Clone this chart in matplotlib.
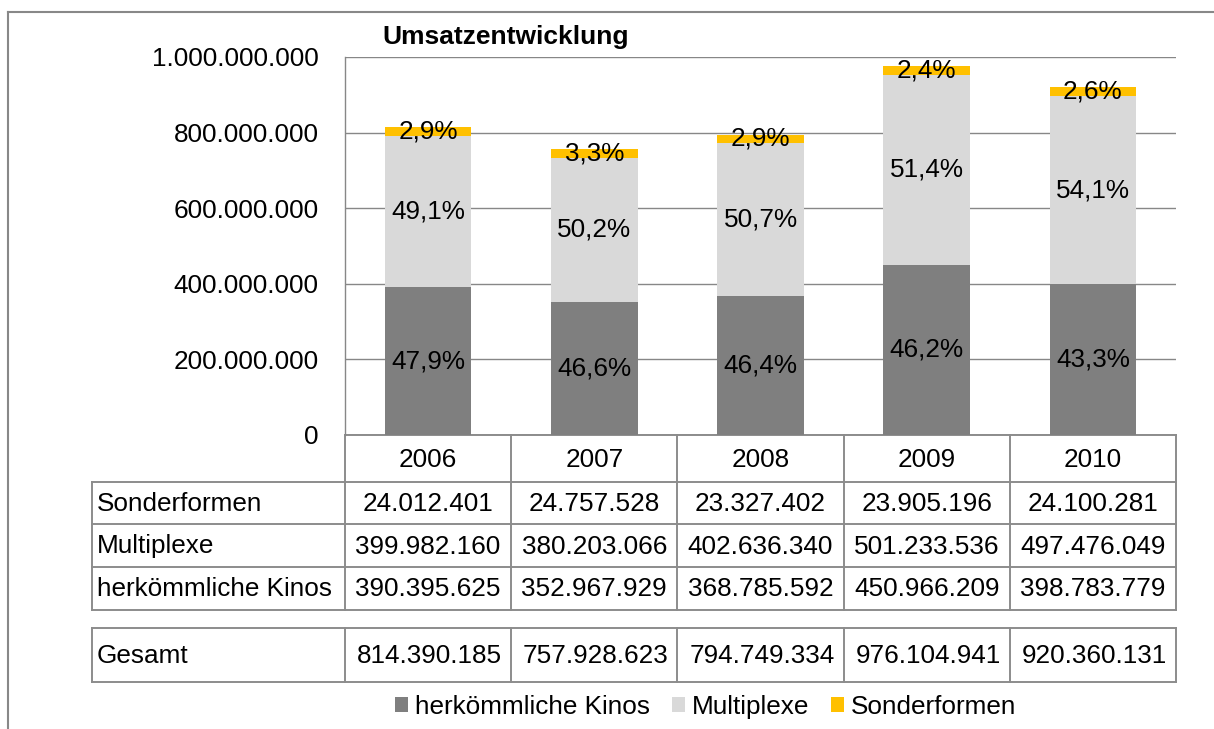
import matplotlib
matplotlib.use("Agg")
import matplotlib.pyplot as plt
import matplotlib.transforms as mtransforms
from matplotlib.lines import Line2D
import numpy as np

plt.rcParams['font.family'] = ['Liberation Sans', 'DejaVu Sans']

# ---------------- data ----------------
years = ["2006", "2007", "2008", "2009", "2010"]
herkoemmliche = [390395625, 352967929, 368785592, 450966209, 398783779]
multiplexe = [399982160, 380203066, 402636340, 501233536, 497476049]
sonderformen = [24012401, 24757528, 23327402, 23905196, 24100281]
gesamt = [814390185, 757928623, 794749334, 976104941, 920360131]
pct_herk = ["47,9%", "46,6%", "46,4%", "46,2%", "43,3%"]
pct_multi = ["49,1%", "50,2%", "50,7%", "51,4%", "54,1%"]
pct_sonder = ["2,9%", "3,3%", "2,9%", "2,4%", "2,6%"]
series_names = ["herkömmliche Kinos", "Multiplexe", "Sonderformen"]
row_labels = ["Sonderformen", "Multiplexe", "herkömmliche Kinos"]
y_ticks = [0, 200000000, 400000000, 600000000, 800000000, 1000000000]
title = "Umsatzentwicklung"

colors = ["#7F7F7F", "#D9D9D9", "#FFC000"]
gridc = "#878787"
linec = "#8C8C8C"
FS = 18.8


def fmt(v):
    return f"{v:,}".replace(",", ".")


W, H = 1214, 729
fig = plt.figure(figsize=(W / 100, H / 100), dpi=100)

# overlay in pixel coordinates (y downward)
ov = fig.add_axes([0, 0, 1, 1], zorder=0)
ov.set_xlim(0, W)
ov.set_ylim(H, 0)
ov.axis("off")

ax_l, ax_r, ax_t, ax_b = 345, 1176, 57, 435
ax = fig.add_axes([ax_l / W, 1 - ax_b / H, (ax_r - ax_l) / W, (ax_b - ax_t) / H], zorder=1)
ax.patch.set_alpha(0)

x = np.arange(len(years))
bw = 0.52
b1 = ax.bar(x, herkoemmliche, bw, color=colors[0], label=series_names[0], zorder=2)
b2 = ax.bar(x, multiplexe, bw, bottom=herkoemmliche, color=colors[1], label=series_names[1], zorder=2)
bottom3 = np.array(herkoemmliche) + np.array(multiplexe)
b3 = ax.bar(x, sonderformen, bw, bottom=bottom3, color=colors[2], label=series_names[2], zorder=2)

ax.bar_label(b1, labels=pct_herk, label_type="center", fontsize=FS, color="black")
ax.bar_label(b2, labels=pct_multi, label_type="center", fontsize=FS, color="black")
ax.bar_label(b3, labels=pct_sonder, label_type="center", fontsize=FS, color="black")

ax.set_xlim(-0.5, len(years) - 0.5)
ax.set_ylim(0, 1000000000)
ax.set_yticks(y_ticks)
ax.set_yticklabels([fmt(v) for v in y_ticks], fontsize=FS)
ax.tick_params(axis="y", length=0, pad=19)
ax.set_xticks([])
ax.yaxis.grid(True, color=gridc, linewidth=1.0, zorder=0)
ax.set_axisbelow(True)
for s in ["top", "right", "bottom"]:
    ax.spines[s].set_visible(False)
ax.spines["left"].set_color(gridc)
ax.spines["left"].set_linewidth(1.0)

# title
ov.text(382, 37, title, fontsize=19, fontweight="bold", ha="left", va="center")

# ---------------- data table ----------------
tr = mtransforms.blended_transform_factory(ax.transData, ov.transData)
lw = 1.4
edges = np.arange(len(years) + 1) - 0.5

# header row
y_h0, y_h1 = 435, 482
ov.add_line(Line2D([edges[0], edges[-1]], [y_h0, y_h0], transform=tr, color=linec, lw=lw))
for e in edges:
    ov.add_line(Line2D([e, e], [y_h0, y_h1], transform=tr, color=linec, lw=lw))
for i, yr in enumerate(years):
    ov.text(i, (y_h0 + y_h1) / 2 + 1, yr, transform=tr, fontsize=FS, ha="center", va="center")

# body rows
row_bounds = [482, 524, 567, 610]
row_values = [sonderformen, multiplexe, herkoemmliche]
lab_left = 92
right_px = ax_r
for yb in row_bounds:
    ov.plot([lab_left, right_px], [yb, yb], color=linec, lw=lw)
ov.plot([lab_left, lab_left], [row_bounds[0], row_bounds[-1]], color=linec, lw=lw)
for e in edges:
    ov.add_line(Line2D([e, e], [row_bounds[0], row_bounds[-1]], transform=tr, color=linec, lw=lw))
for r, (lab, vals) in enumerate(zip(row_labels, row_values)):
    yc = (row_bounds[r] + row_bounds[r + 1]) / 2 + 1
    ov.text(97, yc, lab, fontsize=FS, ha="left", va="center")
    for i, v in enumerate(vals):
        ov.text(i, yc, fmt(v), transform=tr, fontsize=FS, ha="center", va="center")

# Gesamt row
g0, g1 = 628, 682
ov.plot([lab_left, right_px], [g0, g0], color=linec, lw=lw)
ov.plot([lab_left, right_px], [g1, g1], color=linec, lw=lw)
ov.plot([lab_left, lab_left], [g0, g1], color=linec, lw=lw)
for e in edges:
    ov.add_line(Line2D([e, e], [g0, g1], transform=tr, color=linec, lw=lw))
ov.text(97, (g0 + g1) / 2 + 1, "Gesamt", fontsize=FS, ha="left", va="center")
for i, v in enumerate(gesamt):
    ov.text(i + 0.01, (g0 + g1) / 2 + 1, fmt(v), transform=tr, fontsize=FS, ha="center", va="center")

# outer frame (top and left visible)
ov.plot([8, W], [12, 12], color="#888888", lw=1.5)
ov.plot([8, 8], [12, H], color="#888888", lw=1.5)

# legend
fig.legend(handles=[b1, b2, b3], labels=series_names, loc="center",
           bbox_to_anchor=(705.5 / W, 1 - 707 / H), ncol=3, frameon=False,
           fontsize=FS, handlelength=0.5, handleheight=0.5, handletextpad=0.25,
           columnspacing=0.85, borderpad=0, borderaxespad=0)

fig.savefig("out.png", dpi=100)
